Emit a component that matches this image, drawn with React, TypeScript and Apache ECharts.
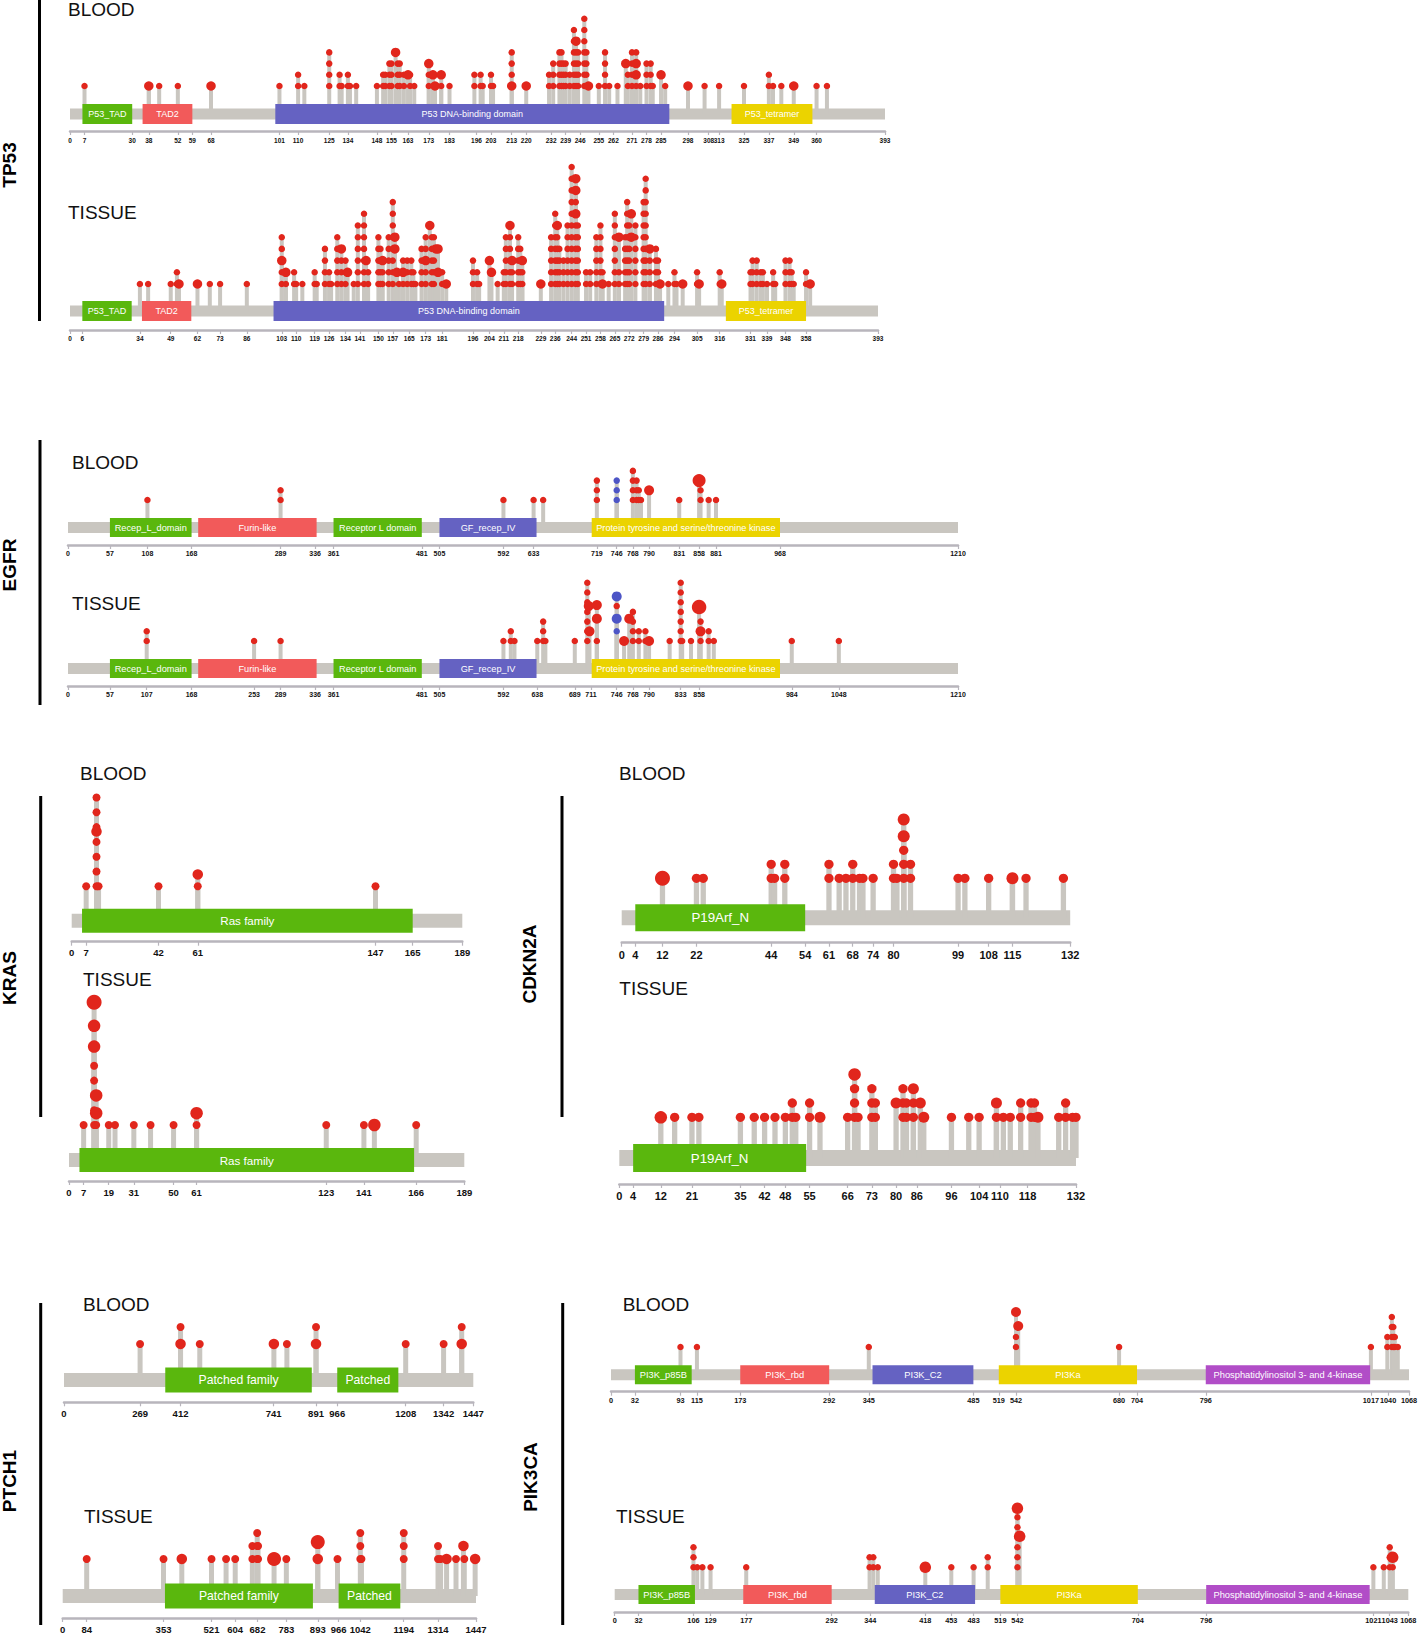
import React, { useEffect, useRef } from "react";
import * as echarts from "echarts";

const FONT = '"Liberation Sans", Arial, Helvetica, sans-serif';
const GRAY = "#c9c6c0";
const RED = "#e1261c";
const BLUE_DOT = "#4d55c6";
const AXIS = "#b8b5bc";
const DOMAIN_COLORS: Record<string, string> = {
  green: "#5ab70d",
  red: "#f25a5a",
  blue: "#6562c2",
  yellow: "#ebd300",
  magenta: "#b14dc7",
};

type Pt = [number, number];
type Domain = [string, number, number, string];

// ---------- protein lengths ----------
const TP53_LENGTH = 393;
const EGFR_LENGTH = 1210;
const KRAS_LENGTH = 189;
const CDKN2A_LENGTH = 132;
const PTCH1_LENGTH = 1447;
const PIK3CA_LENGTH = 1068;

// ---------- domains: [label, start, end, colour family] ----------
const tp53Domains: Domain[] = [
  ["P53_TAD", 6, 30, "green"],
  ["TAD2", 35, 59, "red"],
  ["P53 DNA-binding domain", 99, 289, "blue"],
  ["P53_tetramer", 319, 358, "yellow"],
];
const egfrDomains: Domain[] = [
  ["Recep_L_domain", 57, 168, "green"],
  ["Furin-like", 177, 338, "red"],
  ["Receptor L domain", 361, 481, "green"],
  ["GF_recep_IV", 505, 637, "blue"],
  ["Protein tyrosine and serine/threonine kinase", 712, 968, "yellow"],
];
const krasDomains: Domain[] = [["Ras family", 5, 165, "green"]];
const cdkn2aDomains: Domain[] = [["P19Arf_N", 4, 54, "green"]];
const ptch1Domains: Domain[] = [
  ["Patched family", 358, 876, "green"],
  ["Patched", 966, 1182, "green"],
];
const pik3caDomains: Domain[] = [
  ["PI3K_p85B", 32, 108, "green"],
  ["PI3K_rbd", 173, 292, "red"],
  ["PI3K_C2", 350, 485, "blue"],
  ["PI3Ka", 519, 704, "yellow"],
  ["Phosphatidylinositol 3- and 4-kinase", 796, 1016, "magenta"],
];

// ---------- tick labels ----------
const tp53BloodTicks = [0, 7, 30, 38, 52, 59, 68, 101, 110, 125, 134, 148, 155, 163, 173, 183, 196, 203, 213, 220, 232, 239, 246, 255, 262, 271, 278, 285, 298, 308, 313, 325, 337, 349, 360, 393];
const tp53TissueTicks = [0, 6, 34, 49, 62, 73, 86, 103, 110, 119, 126, 134, 141, 150, 157, 165, 173, 181, 196, 204, 211, 218, 229, 236, 244, 251, 258, 265, 272, 279, 286, 294, 305, 316, 331, 339, 348, 358, 393];
const egfrBloodTicks = [0, 57, 108, 168, 289, 336, 361, 481, 505, 592, 633, 719, 746, 768, 790, 831, 858, 881, 968, 1210];
const egfrTissueTicks = [0, 57, 107, 168, 253, 289, 336, 361, 481, 505, 592, 638, 689, 711, 746, 768, 790, 833, 858, 984, 1048, 1210];
const krasBloodTicks = [0, 7, 42, 61, 147, 165, 189];
const krasTissueTicks = [0, 7, 19, 31, 50, 61, 123, 141, 166, 189];
const cdkn2aBloodTicks = [0, 4, 12, 22, 44, 54, 61, 68, 74, 80, 99, 108, 115, 132];
const cdkn2aTissueTicks = [0, 4, 12, 21, 35, 42, 48, 55, 66, 73, 80, 86, 96, 104, 110, 118, 132];
const ptch1BloodTicks = [0, 269, 412, 741, 891, 966, 1208, 1342, 1447];
const ptch1TissueTicks = [0, 84, 353, 521, 604, 682, 783, 893, 966, 1042, 1194, 1314, 1447];
const pik3caBloodTicks = [0, 32, 93, 115, 173, 292, 345, 485, 519, 542, 680, 704, 796, 1017, 1040, 1068];
const pik3caTissueTicks = [0, 32, 106, 129, 177, 292, 344, 418, 453, 483, 519, 542, 704, 796, 1021, 1043, 1068];

// ---------- mutations: stacks [position, number of stacked dots], single dots [position, level] ----------
const tp53BloodStacks: Pt[] = [[7,1],[38,1],[43,1],[52,1],[68,1],[101,1],[110,2],[113,1],[125,4],[130,2],[131,1],[134,2],[135,1],[138,1],[148,1],[151,2],[152,2],[154,3],[155,3],[158,3],[159,3],[161,2],[164,2],[166,1],[173,2],[176,1],[179,1],[183,1],[195,2],[198,2],[199,1],[203,2],[204,1],[213,4],[231,2],[233,3],[236,4],[237,4],[238,3],[239,3],[241,2],[243,6],[244,5],[245,4],[248,7],[249,4],[255,1],[258,4],[260,1],[264,1],[269,2],[271,4],[273,4],[275,1],[278,3],[280,3],[281,1],[287,1],[306,1],[313,1],[325,1],[337,2],[339,1],[343,1],[360,1],[365,1]];
const tp53BloodBig: Pt[] = [[38,1],[68,1],[157,4],[163,2],[173,3],[175,2],[176,1],[179,2],[213,1],[220,1],[244,5],[250,1],[268,3],[273,3],[273,2],[285,2],[298,1],[349,1]];

const tp53TissueStacks: Pt[] = [[34,1],[38,1],[49,1],[52,2],[68,1],[73,1],[86,1],[103,5],[105,1],[109,2],[110,1],[113,1],[119,2],[120,1],[124,4],[126,2],[127,1],[130,5],[132,3],[134,3],[138,1],[140,6],[143,7],[145,2],[150,5],[151,4],[152,3],[155,5],[157,8],[160,1],[162,3],[164,3],[166,3],[167,2],[168,1],[171,4],[173,5],[176,5],[177,5],[181,2],[196,3],[198,2],[199,1],[208,1],[211,2],[212,5],[214,5],[215,2],[218,5],[219,4],[220,2],[234,5],[236,7],[237,5],[238,4],[240,3],[242,6],[244,11],[246,10],[247,6],[251,2],[253,2],[256,5],[258,6],[259,2],[262,1],[265,7],[267,2],[270,5],[271,8],[272,6],[275,6],[279,8],[280,10],[282,3],[285,4],[286,3],[291,1],[294,2],[295,1],[305,2],[316,2],[331,2],[332,3],[334,3],[336,2],[337,2],[339,1],[342,2],[343,1],[348,3],[350,3],[351,2],[352,1],[358,2]];
const tp53TissueBig: Pt[] = [[53,1],[62,1],[103,3],[105,2],[132,4],[135,2],[144,3],[152,3],[158,5],[158,4],[159,2],[162,2],[173,3],[175,6],[178,4],[179,4],[179,2],[183,1],[204,3],[205,2],[214,6],[215,3],[220,3],[229,1],[237,6],[246,10],[246,9],[246,7],[259,1],[267,5],[273,7],[273,5],[282,4],[287,1],[298,1],[306,1],[317,1],[360,1]];

const egfrBloodStacks: Pt[] = [[108,1],[289,2],[592,1],[633,1],[646,1],[719,3],[768,4],[773,3],[776,2],[779,1],[831,1],[860,2],[871,1],[881,1]];
const egfrBloodBig: Pt[] = [[790,2]];
const egfrBloodHuge: Pt[] = [[858,3]];
const egfrBloodBlue: Pt[] = [[746,1],[746,2],[746,3]];

const egfrTissueStacks: Pt[] = [[107,2],[253,1],[289,1],[592,1],[602,2],[607,1],[638,1],[646,3],[649,1],[689,1],[706,7],[719,1],[768,4],[776,2],[785,2],[818,1],[833,7],[835,1],[847,1],[860,3],[871,2],[878,1],[984,1],[1048,1]];
const egfrTissueSingles: Pt[] = [[746,4.6]];
const egfrTissueBig: Pt[] = [[708,4.6],[709,2],[719,4.7],[719,3.3],[756,1],[763,3.3],[790,1],[860,2]];
const egfrTissueHuge: Pt[] = [[858,4.5]];
const egfrTissueBlue: Pt[] = [[746,2]];
const egfrTissueBlueBig: Pt[] = [[746,5.6],[746,3.3]];

const krasBloodStacks: Pt[] = [[7,1],[12,7],[13,1],[42,1],[61,1],[147,1]];
const krasBloodBig: Pt[] = [[12,4.7],[61,1.8]];

const krasTissueStacks: Pt[] = [[7,1],[12,5],[13,1],[19,1],[22,1],[31,1],[39,1],[50,1],[61,1],[123,1],[141,1],[166,1]];
const krasTissueBig: Pt[] = [[12,6.3],[12,7.7],[13,1.8],[13,3],[61,1.8],[146,1]];
const krasTissueHuge: Pt[] = [[12,9.3]];

const cdkn2aBloodStacks: Pt[] = [[22,1],[24,1],[44,2],[45,1],[48,2],[61,2],[64,1],[66,1],[68,2],[70,1],[71,1],[74,1],[80,2],[81,1],[83,3],[85,2],[99,1],[101,1],[108,1],[115,1],[119,1],[130,1]];
const cdkn2aBloodBig: Pt[] = [[83,4],[83,5.2],[115,1]];
const cdkn2aBloodHuge: Pt[] = [[12,1]];

const cdkn2aTissueStacks: Pt[] = [[16,1],[21,1],[23,1],[35,1],[39,1],[42,1],[45,1],[48,1],[50,2],[51,1],[55,2],[66,1],[68,3],[69,1],[73,3],[74,2],[82,3],[83,2],[85,2],[96,1],[101,1],[104,1],[109,1],[111,1],[113,1],[116,2],[119,2],[120,2],[127,1],[129,2],[131,1],[132,1]];
const cdkn2aTissueBig: Pt[] = [[58,1],[80,2],[85,3],[87,2],[88,1],[109,2],[121,1]];
const cdkn2aTissueHuge: Pt[] = [[12,1],[68,4]];

const ptch1BloodStacks: Pt[] = [[269,1],[412,2],[480,1],[788,1],[891,2],[1208,1],[1342,1],[1406,2]];
const ptch1BloodBig: Pt[] = [[412,1],[742,1],[891,1],[1406,1]];

const ptch1TissueStacks: Pt[] = [[84,1],[353,1],[521,1],[572,1],[604,1],[664,2],[681,3],[684,2],[783,1],[962,1],[1042,3],[1046,1],[1194,3],[1314,2],[1323,1],[1377,1],[1406,1]];
const ptch1TissueBig: Pt[] = [[417,1],[893,1],[1344,1],[1403,2],[1444,1]];
const ptch1TissueHuge: Pt[] = [[740,1],[893,2.3]];

const pik3caBloodStacks: Pt[] = [[93,1],[115,1],[345,1],[542,2],[680,1],[1017,1],[1039,2],[1045,4],[1047,3],[1049,2],[1053,1]];
const pik3caBloodBig: Pt[] = [[542,4.5],[545,3.1]];

const pik3caTissueStacks: Pt[] = [[106,3],[111,1],[118,1],[129,1],[177,1],[343,2],[348,2],[354,1],[453,1],[483,1],[502,2],[542,6],[1021,1],[1035,1],[1043,3],[1047,1]];
const pik3caTissueBig: Pt[] = [[418,1],[542,6.9],[545,4.1],[1047,2]];

// ---------- layout (pixels) ----------
interface Geo {
  x0: number; x1: number; axisY: number; l1Y: number; step: number; top: number;
  bbOff: number; bbH: number; domH: number; stemW: number;
  dot: number; big: number; huge: number;
  tickFont: number; domFont: number; margin: number;
  titleX: number; titleY: number;
}

interface Panel {
  title: string;
  length: number;
  domains: Domain[];
  ticks: number[];
  stacks: Pt[];
  singles?: Pt[];
  big?: Pt[];
  huge?: Pt[];
  blue?: Pt[];
  blueBig?: Pt[];
  geo: Geo;
}

const panels: Panel[] = [
  { title: "BLOOD", length: TP53_LENGTH, domains: tp53Domains, ticks: tp53BloodTicks, stacks: tp53BloodStacks, big: tp53BloodBig,
    geo: { x0: 70, x1: 885, axisY: 131, l1Y: 86, step: 11.2, top: 8, bbOff: 17, bbH: 11, domH: 20, stemW: 4, dot: 6.5, big: 9.5, huge: 12, tickFont: 6.5, domFont: 9, margin: 6, titleX: 68, titleY: 9 } },
  { title: "TISSUE", length: TP53_LENGTH, domains: tp53Domains, ticks: tp53TissueTicks, stacks: tp53TissueStacks, big: tp53TissueBig,
    geo: { x0: 70, x1: 878, axisY: 330, l1Y: 284, step: 11.7, top: 12, bbOff: 19, bbH: 11, domH: 20, stemW: 4, dot: 6.5, big: 9.5, huge: 12, tickFont: 6.5, domFont: 9, margin: 5, titleX: 68, titleY: 212 } },
  { title: "BLOOD", length: EGFR_LENGTH, domains: egfrDomains, ticks: egfrBloodTicks, stacks: egfrBloodStacks, big: egfrBloodBig, huge: egfrBloodHuge, blue: egfrBloodBlue,
    geo: { x0: 68, x1: 958, axisY: 545, l1Y: 500, step: 9.7, top: 5.2, bbOff: 17.5, bbH: 11, domH: 19, stemW: 4, dot: 6.5, big: 10, huge: 13, tickFont: 7, domFont: 9.2, margin: 5, titleX: 72, titleY: 462 } },
  { title: "TISSUE", length: EGFR_LENGTH, domains: egfrDomains, ticks: egfrTissueTicks, stacks: egfrTissueStacks, singles: egfrTissueSingles, big: egfrTissueBig, huge: egfrTissueHuge, blue: egfrTissueBlue, blueBig: egfrTissueBlueBig,
    geo: { x0: 68, x1: 958, axisY: 686, l1Y: 641, step: 9.7, top: 8, bbOff: 17.5, bbH: 11, domH: 19, stemW: 4, dot: 6.5, big: 10, huge: 14.5, tickFont: 7, domFont: 9.2, margin: 5, titleX: 72, titleY: 603 } },
  { title: "BLOOD", length: KRAS_LENGTH, domains: krasDomains, ticks: krasBloodTicks, stacks: krasBloodStacks, big: krasBloodBig,
    geo: { x0: 71.7, x1: 462.3, axisY: 941.7, l1Y: 886.3, step: 14.8, top: 7.8, bbOff: 21, bbH: 14, domH: 24, stemW: 5, dot: 8, big: 10.5, huge: 13, tickFont: 9.5, domFont: 11.6, margin: 6, titleX: 80, titleY: 773 } },
  { title: "TISSUE", length: KRAS_LENGTH, domains: krasDomains, ticks: krasTissueTicks, stacks: krasTissueStacks, big: krasTissueBig, huge: krasTissueHuge,
    geo: { x0: 69, x1: 464.3, axisY: 1181, l1Y: 1125, step: 14.8, top: 10, bbOff: 21, bbH: 14, domH: 24, stemW: 5, dot: 8, big: 12.5, huge: 15, tickFont: 9.5, domFont: 11.6, margin: 6, titleX: 83, titleY: 979 } },
  { title: "BLOOD", length: CDKN2A_LENGTH, domains: cdkn2aDomains, ticks: cdkn2aBloodTicks, stacks: cdkn2aBloodStacks, big: cdkn2aBloodBig, huge: cdkn2aBloodHuge,
    geo: { x0: 621.7, x1: 1070.2, axisY: 942.7, l1Y: 878.3, step: 14, top: 6, bbOff: 25, bbH: 15, domH: 27, stemW: 5.3, dot: 9.3, big: 12, huge: 15, tickFont: 11, domFont: 13.3, margin: 6.5, titleX: 619, titleY: 773 } },
  { title: "TISSUE", length: CDKN2A_LENGTH, domains: cdkn2aDomains, ticks: cdkn2aTissueTicks, stacks: cdkn2aTissueStacks, big: cdkn2aTissueBig, huge: cdkn2aTissueHuge,
    geo: { x0: 619.3, x1: 1076, axisY: 1184, l1Y: 1117.3, step: 14.3, top: 5, bbOff: 26, bbH: 16, domH: 28, stemW: 5.3, dot: 9.3, big: 11, huge: 12.5, tickFont: 11, domFont: 13.3, margin: 6, titleX: 619.3, titleY: 988 } },
  { title: "BLOOD", length: PTCH1_LENGTH, domains: ptch1Domains, ticks: ptch1BloodTicks, stacks: ptch1BloodStacks, big: ptch1BloodBig,
    geo: { x0: 64, x1: 473.3, axisY: 1402.3, l1Y: 1344, step: 17, top: 3, bbOff: 22.3, bbH: 14, domH: 25, stemW: 5, dot: 8, big: 10.5, huge: 14, tickFont: 9.5, domFont: 12.2, margin: 6.5, titleX: 83, titleY: 1304.5 } },
  { title: "TISSUE", length: PTCH1_LENGTH, domains: ptch1Domains, ticks: ptch1TissueTicks, stacks: ptch1TissueStacks, big: ptch1TissueBig, huge: ptch1TissueHuge,
    geo: { x0: 62.7, x1: 476, axisY: 1618, l1Y: 1559, step: 13, top: 3.5, bbOff: 22, bbH: 14, domH: 25, stemW: 5, dot: 8, big: 10.5, huge: 14, tickFont: 9.5, domFont: 12.2, margin: 6, titleX: 84, titleY: 1516 } },
  { title: "BLOOD", length: PIK3CA_LENGTH, domains: pik3caDomains, ticks: pik3caBloodTicks, stacks: pik3caBloodStacks, big: pik3caBloodBig,
    geo: { x0: 611, x1: 1409, axisY: 1391.7, l1Y: 1347, step: 10, top: 5.5, bbOff: 17, bbH: 11, domH: 19, stemW: 4, dot: 6.5, big: 10, huge: 12, tickFont: 7.3, domFont: 9.3, margin: 5, titleX: 622.7, titleY: 1304.5 } },
  { title: "TISSUE", length: PIK3CA_LENGTH, domains: pik3caDomains, ticks: pik3caTissueTicks, stacks: pik3caTissueStacks, big: pik3caTissueBig,
    geo: { x0: 614.7, x1: 1408.3, axisY: 1612, l1Y: 1567.3, step: 10, top: 7.8, bbOff: 17.5, bbH: 11, domH: 19, stemW: 4, dot: 6.5, big: 11.5, huge: 13, tickFont: 7.3, domFont: 9.3, margin: 5, titleX: 616, titleY: 1516 } },
];

// gene labels with their vertical bars
const geneLabels = [
  { name: "TP53", x: 9.5, y: 165, barX: 39.5, barTop: 0, barBottom: 321 },
  { name: "EGFR", x: 9.5, y: 565, barX: 40, barTop: 440, barBottom: 705 },
  { name: "KRAS", x: 9.5, y: 978, barX: 40.7, barTop: 796, barBottom: 1117 },
  { name: "CDKN2A", x: 529.5, y: 964, barX: 562, barTop: 796, barBottom: 1117 },
  { name: "PTCH1", x: 9, y: 1481, barX: 40.7, barTop: 1303, barBottom: 1625 },
  { name: "PIK3CA", x: 530.5, y: 1477, barX: 562.7, barTop: 1303, barBottom: 1625 },
];

function stackDots(stacks: Pt[]): Pt[] {
  const out: Pt[] = [];
  stacks.forEach(([pos, n]) => {
    for (let k = 1; k <= n; k++) out.push([pos, k]);
  });
  return out;
}

function buildOption() {
  const grids: any[] = [];
  const xAxes: any[] = [];
  const yAxes: any[] = [];
  const series: any[] = [];
  const graphics: any[] = [];

  panels.forEach((p, i) => {
    const g = p.geo;
    const yMin = 1 - (g.axisY - g.l1Y) / g.step;
    const yMax = g.top;
    const h = (yMax - yMin) * g.step;
    grids.push({ left: g.x0, top: g.axisY - h, width: g.x1 - g.x0, height: h, containLabel: false, outerBoundsMode: "none" });
    xAxes.push({
      gridIndex: i,
      type: "value",
      min: 0,
      max: p.length,
      axisLine: { show: true, onZero: false, lineStyle: { color: AXIS, width: 2.5 } },
      axisTick: { show: true, customValues: p.ticks, length: 4, lineStyle: { color: AXIS, width: 1.2 } },
      axisLabel: {
        show: true,
        customValues: p.ticks,
        formatter: (v: number) => String(v),
        fontSize: g.tickFont,
        fontWeight: "bold",
        color: "#111",
        fontFamily: FONT,
        margin: g.margin,
        hideOverlap: false,
      },
      splitLine: { show: false },
    });
    yAxes.push({ gridIndex: i, type: "value", min: yMin, max: yMax, show: false });

    // backbone
    series.push({
      type: "custom",
      xAxisIndex: i,
      yAxisIndex: i,
      z: 1,
      silent: true,
      encode: { x: [0, 1] },
      data: [[0, p.length]],
      renderItem: (params: any, api: any) => {
        const cs = params.coordSys;
        const base = cs.y + cs.height - g.bbOff;
        const s = api.coord([api.value(0), 0]);
        const e = api.coord([api.value(1), 0]);
        return {
          type: "rect",
          shape: { x: s[0], y: base - g.bbH / 2, width: e[0] - s[0], height: g.bbH },
          style: { fill: GRAY },
        };
      },
    });

    // stems
    const stemData: Pt[] = [
      ...p.stacks,
      ...(p.singles || []),
      ...(p.big || []),
      ...(p.huge || []),
      ...(p.blue || []),
      ...(p.blueBig || []),
    ];
    series.push({
      type: "custom",
      xAxisIndex: i,
      yAxisIndex: i,
      z: 2,
      silent: true,
      encode: { x: 0, y: 1 },
      data: stemData,
      renderItem: (params: any, api: any) => {
        const cs = params.coordSys;
        const base = cs.y + cs.height - g.bbOff;
        const pt = api.coord([api.value(0), api.value(1)]);
        return {
          type: "rect",
          shape: { x: pt[0] - g.stemW / 2, y: pt[1], width: g.stemW, height: base - pt[1] },
          style: { fill: GRAY },
        };
      },
    });

    // domains
    series.push({
      type: "custom",
      xAxisIndex: i,
      yAxisIndex: i,
      z: 3,
      silent: true,
      encode: { x: [0, 1] },
      data: p.domains.map((d) => [d[1], d[2]]),
      renderItem: (params: any, api: any) => {
        const d = p.domains[params.dataIndex];
        const cs = params.coordSys;
        const base = cs.y + cs.height - g.bbOff;
        const s = api.coord([api.value(0), 0]);
        const e = api.coord([api.value(1), 0]);
        return {
          type: "group",
          children: [
            {
              type: "rect",
              shape: { x: s[0], y: base - g.domH / 2, width: e[0] - s[0], height: g.domH },
              style: { fill: DOMAIN_COLORS[d[3]] },
            },
            {
              type: "text",
              x: (s[0] + e[0]) / 2,
              y: base,
              style: {
                text: d[0],
                fill: "#ffffff",
                fontSize: g.domFont,
                fontFamily: FONT,
                align: "center",
                verticalAlign: "middle",
              },
            },
          ],
        };
      },
    });

    const dotSeries = (data: Pt[], size: number, color: string, z: number) => ({
      type: "scatter",
      xAxisIndex: i,
      yAxisIndex: i,
      z,
      silent: true,
      clip: false,
      symbol: "circle",
      symbolSize: size,
      itemStyle: { color, opacity: 1 },
      data,
    });

    series.push(dotSeries([...stackDots(p.stacks), ...(p.singles || [])], g.dot, RED, 4));
    if (p.blue) series.push(dotSeries(p.blue, g.dot, BLUE_DOT, 5));
    if (p.big) series.push(dotSeries(p.big, g.big, RED, 5));
    if (p.blueBig) series.push(dotSeries(p.blueBig, g.big, BLUE_DOT, 5));
    if (p.huge) series.push(dotSeries(p.huge, g.huge, RED, 6));

    graphics.push({
      type: "text",
      x: g.titleX,
      y: g.titleY,
      style: {
        text: p.title,
        fontSize: 19,
        fontFamily: FONT,
        fill: "#111",
        align: "left",
        verticalAlign: "middle",
      },
    });
  });

  geneLabels.forEach((gl) => {
    graphics.push({
      type: "line",
      shape: { x1: gl.barX, y1: gl.barTop, x2: gl.barX, y2: gl.barBottom },
      style: { stroke: "#000", lineWidth: 3 },
    });
    graphics.push({
      type: "text",
      x: gl.x,
      y: gl.y,
      rotation: Math.PI / 2,
      style: {
        text: gl.name,
        fontSize: 19,
        lineHeight: 14,
        fontWeight: "bold",
        fontFamily: FONT,
        fill: "#000",
        align: "center",
        verticalAlign: "middle",
      },
    });
  });

  return {
    animation: false,
    backgroundColor: "#ffffff",
    grid: grids,
    xAxis: xAxes,
    yAxis: yAxes,
    series,
    graphic: { elements: graphics },
  };
}

export default function App() {
  const ref = useRef<HTMLDivElement>(null);
  useEffect(() => {
    if (!ref.current) return;
    const chart = echarts.init(ref.current, null, { renderer: "svg" });
    chart.setOption(buildOption() as any);
    return () => chart.dispose();
  }, []);
  return (
    <div
      ref={ref}
      style={{ position: "absolute", left: 0, top: 0, width: 1418, height: 1634, background: "#fff" }}
    />
  );
}
